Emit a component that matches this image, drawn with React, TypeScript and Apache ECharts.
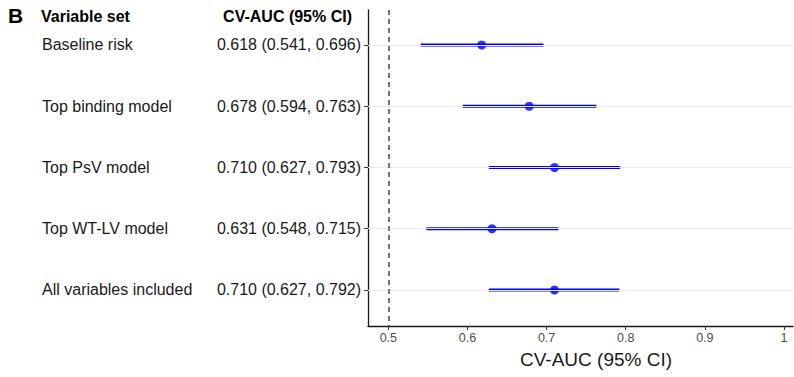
import React, { useEffect, useRef } from "react";
import * as echarts from "echarts";

const variableSets = [
  "Baseline risk",
  "Top binding model",
  "Top PsV model",
  "Top WT-LV model",
  "All variables included",
];
const estimates = [0.618, 0.678, 0.71, 0.631, 0.71];
const lowers = [0.541, 0.594, 0.627, 0.548, 0.627];
const uppers = [0.696, 0.763, 0.793, 0.715, 0.792];
const xTicks = [0.5, 0.6, 0.7, 0.8, 0.9, 1.0];
const refLine = 0.5;

const FONT = "Arial, 'Liberation Sans', sans-serif";

export default function App() {
  const ref = useRef<HTMLDivElement>(null);
  useEffect(() => {
    document.body.style.margin = "0";
    const chart = echarts.init(ref.current!, null, { renderer: "svg" });
    const rowIdx = variableSets.map((_, i) => i + 1);
    const ciText = (i: number) =>
      `${estimates[i].toFixed(3)} (${lowers[i].toFixed(3)}, ${uppers[i].toFixed(3)})`;
    const yBase = {
      type: "value",
      inverse: true,
      min: 0.4286,
      max: 5.588,
      position: "left",
      splitLine: { show: false },
    };
    const option: any = {
      animation: false,
      textStyle: { fontFamily: FONT },
      grid: { left: 368, right: 1, top: 10, bottom: 51, containLabel: false },
      xAxis: {
        type: "value",
        min: 0.4743,
        max: 1.0114,
        name: "CV-AUC (95% CI)",
        nameLocation: "middle",
        nameGap: 24,
        nameTextStyle: {
          fontSize: 19,
          color: "#1a1a1a",
          fontFamily: FONT,
          padding: [0, 0, 0, 31],
        },
        axisLine: { show: true, lineStyle: { color: "#1a1a1a", width: 1.3 } },
        axisTick: {
          show: true,
          length: 4,
          customValues: xTicks,
          lineStyle: { color: "#333333", width: 1 },
        },
        axisLabel: {
          customValues: xTicks,
          margin: 5,
          fontSize: 12.5,
          color: "#4d4d4d",
          fontFamily: FONT,
          formatter: (v: number) => (Math.abs(v - 1) < 1e-9 ? "1" : v.toFixed(1)),
        },
        splitLine: { show: false },
      },
      yAxis: [
        {
          ...yBase,
          axisLine: { show: true, lineStyle: { color: "#1a1a1a", width: 1.3 } },
          axisTick: {
            show: true,
            length: 4,
            customValues: rowIdx,
            lineStyle: { color: "#333333", width: 1 },
          },
          axisLabel: {
            customValues: rowIdx,
            margin: 7,
            fontSize: 16,
            color: "#1a1a1a",
            fontFamily: FONT,
            formatter: (v: number) => ciText(Math.round(v) - 1),
          },
        },
        {
          ...yBase,
          axisLine: { show: false },
          axisTick: { show: false },
          axisLabel: {
            customValues: rowIdx,
            margin: 326,
            align: "left",
            fontSize: 16,
            color: "#1a1a1a",
            fontFamily: FONT,
            formatter: (v: number) => variableSets[Math.round(v) - 1],
          },
        },
      ],
      graphic: [
        {
          type: "text",
          left: 8,
          top: 5,
          style: { text: "B", fontSize: 21, fontWeight: "bold", fontFamily: FONT, fill: "#000" },
        },
        {
          type: "text",
          left: 41,
          top: 8,
          style: { text: "Variable set", fontSize: 16, fontWeight: "bold", fontFamily: FONT, fill: "#000" },
        },
        {
          type: "text",
          x: 352,
          y: 8,
          style: {
            text: "CV-AUC (95% CI)",
            fontSize: 16,
            fontWeight: "bold",
            fontFamily: FONT,
            fill: "#000",
            align: "right",
            verticalAlign: "top",
          },
        },
      ],
      series: [
        {
          type: "line",
          data: [],
          silent: true,
          z: 1,
          markLine: {
            silent: true,
            symbol: "none",
            label: { show: false },
            data: [
              ...rowIdx.map((r) => ({
                yAxis: r,
                lineStyle: { color: "#ebebeb", type: "solid", width: 1 },
              })),
              {
                xAxis: refLine,
                lineStyle: { color: "#4a4a4a", type: [5, 4], width: 1.5 },
              },
            ],
          },
        },
        ...variableSets.map((name, i) => ({
          type: "line",
          name,
          z: 2,
          silent: true,
          symbol: "none",
          showSymbol: false,
          lineStyle: { color: "#0000ff", width: 3, cap: "butt" },
          itemStyle: { color: "#0000ff" },
          data: [
            [lowers[i], i + 1],
            [uppers[i], i + 1],
          ],
        })),
        {
          type: "scatter",
          z: 3,
          symbol: "circle",
          symbolSize: 9,
          itemStyle: { color: "#0000ff" },
          data: variableSets.map((_, i) => [estimates[i], i + 1]),
        },
      ],
    };
    chart.setOption(option);
    return () => chart.dispose();
  }, []);
  return <div ref={ref} style={{ width: 794, height: 377 }} />;
}
